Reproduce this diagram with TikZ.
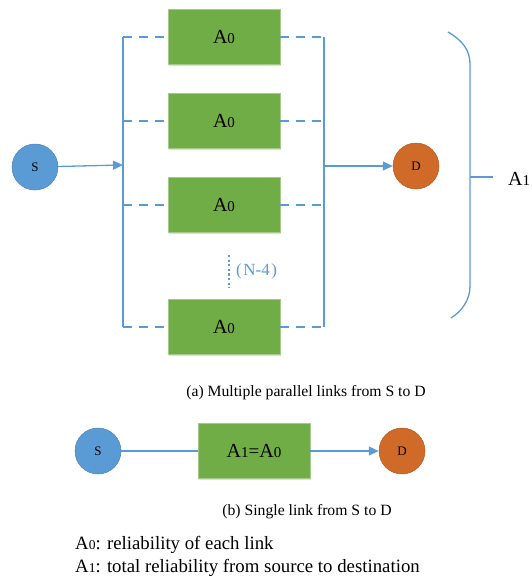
\documentclass[tikz,border=0pt]{standalone}
\usepackage{fontspec}
\setmainfont{Liberation Serif}
\usetikzlibrary{arrows.meta}
\definecolor{linkblue}{HTML}{5B9BD5}
\definecolor{boxgreen}{HTML}{70AD47}
\definecolor{boxedge}{HTML}{A5C98A}
\definecolor{srcblue}{HTML}{5B9BD5}
\definecolor{dstorange}{HTML}{D06A28}
\definecolor{dstedge}{HTML}{B65A22}
% letter A followed by a small digit on the baseline
\newcommand{\Alab}[3]{{\fontsize{#1}{#1}\selectfont A}{\fontsize{#2}{#2}\selectfont #3}}
\begin{document}
\begin{tikzpicture}[x=1pt,y=-1pt,
  link/.style={draw=linkblue,line width=1.3pt},
  dlink/.style={link,dash pattern=on 9pt off 7pt},
  arr/.style={link,-{Triangle[length=10pt,width=9pt]}},
  linkbox/.style={draw=boxedge,line width=0.8pt,fill=boxgreen,minimum width=112pt,minimum height=55pt,inner sep=0pt,
    preaction={fill=black!13,transform canvas={xshift=1.2pt,yshift=-1.6pt}}},
  srcnode/.style={circle,draw=srcblue!85!black,line width=0.5pt,fill=srcblue,minimum size=46pt,inner sep=0pt,font=\fontsize{13}{13}\selectfont},
  dstnode/.style={circle,draw=dstedge,line width=0.5pt,fill=dstorange,minimum size=46pt,inner sep=0pt,font=\fontsize{13}{13}\selectfont},
  caption/.style={font=\fontsize{15.7}{15.7}\selectfont,inner sep=0pt},
  legend/.style={anchor=west,inner sep=0pt,font=\fontsize{18.8}{18.8}\selectfont}]
\useasboundingbox (0,0) rectangle (532,579);

% (a) parallel links
\node[srcnode] (S) at (35,167) {S};
\node[dstnode] (D) at (416,166) {D};

\foreach \i/\y in {1/37,2/121,3/205,4/327}{
  \node[linkbox] (B\i) at (224,\y) {\Alab{20}{15}{0}};
  \coordinate (L\i) at (123,\y);
  \coordinate (R\i) at (324,\y);
  \draw[dlink] (L\i) -- (B\i.west);
  \draw[dlink] (B\i.east) -- (R\i);
}
\draw[link] (L1) -- (L4);
\draw[link] (R1) -- (R4);
\coordinate (Lin) at (123,165);
\coordinate (Rout) at (324,166);
\draw[arr] (S) -- (Lin);
\draw[arr] (Rout) -- (D);

% omitted links
\coordinate (dotTop) at (229,255);
\coordinate (dotBot) at (229,288);
\draw[draw=linkblue,line width=2.2pt,dash pattern=on 2.2pt off 2.4pt] (dotTop) -- (dotBot);
\node[anchor=west,text=linkblue,font=\fontsize{17}{17}\selectfont,inner sep=0pt] (N) at (236,271) {(\kern1.5pt N-4\kern1.5pt)};

% bracket over all links
\draw[link] (448,32) .. controls (462,40) and (470,50) .. (470,64) -- (470,286)
  .. controls (470,300) and (462,311) .. (451,318);
\coordinate (brk) at (470,177);
\coordinate (brkEnd) at (493,177);
\draw[link] (brk) -- (brkEnd);
\node[anchor=west,inner sep=0pt] (A1lab) at (508,179) {\Alab{20}{15}{1}};

\node[caption] (capA) at (306,393) {(a) Multiple parallel links from S to D};

% (b) single equivalent link
\node[srcnode] (S2) at (98,451) {S};
\node[linkbox] (B5) at (254,451) {\Alab{20}{15}{1}{\fontsize{19}{19}\selectfont =}\Alab{20}{15}{0}};
\node[dstnode] (D2) at (402,451) {D};
\draw[link] (S2) -- (B5);
\draw[arr] (B5) -- (D2);

\node[caption] (capB) at (307,512) {(b) Single link from S to D};

% legend
\node[legend] (leg0) at (75,545) {\Alab{18.8}{13.5}{0}: reliability of each link};
\node[legend] (leg1) at (75,568) {\Alab{18.8}{13.5}{1}: total reliability from source to destination};
\end{tikzpicture}
\end{document}
